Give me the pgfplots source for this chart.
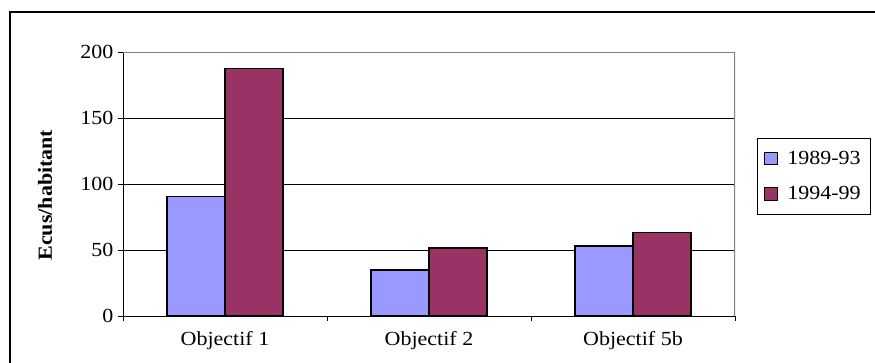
\documentclass[border=0pt]{standalone}
\usepackage{pgfplots}
\pgfplotsset{compat=1.18}
\usepackage{fontspec}
\setmainfont{Liberation Serif}[FakeStretch=1.1]
\definecolor{barblue}{RGB}{153,153,255}
\definecolor{barred}{RGB}{153,51,102}
\begin{document}
\begin{tikzpicture}
\draw[black, line width=1pt] (-84.75pt,228pt) rectangle (700pt,-100pt);
\begin{axis}[
  at={(0pt,0pt)}, anchor=south west,
  width=459pt, height=198pt, scale only axis,
  font=\fontsize{15}{17}\selectfont,
  /pgf/number format/assume math mode=true,
  xmin=-0.5, xmax=2.5, ymin=0, ymax=200,
  ytick={0,50,100,150,200},
  xtick={-0.5,0.5,1.5,2.5}, xticklabels={},
  extra x ticks={0,1,2},
  extra x tick labels={Objectif 1,Objectif 2,Objectif 5b},
  extra x tick style={major tick length=0pt, tick style={draw=none}},
  xticklabel style={yshift=-8pt},
  tick align=outside, major tick length=3.75pt,
  tick style={black, line width=0.6pt},
  axis x line*=bottom, axis y line*=left,
  axis line style={-, black, line width=0.7pt},
  ymajorgrids, grid style={black, line width=0.6pt},
  ybar=0pt, bar width=0.284,
  ylabel={\bfseries Ecus/habitant},
  ylabel style={at={(axis description cs:-0.1275,0.458)}, anchor=center, rotate=0},
  legend style={at={(axis description cs:1.036,0.674)}, anchor=north west,
    draw=black, line width=0.75pt, inner xsep=5pt, inner ysep=7.5pt,
    row sep=11pt, font=\fontsize{15}{17}\selectfont},
  legend cell align=left,
  legend image code/.code={\draw[#1,draw=black,line width=0.8pt] (0pt,-4.5pt) rectangle (9.5pt,5pt); \path[draw=none,fill=none] (0pt,0pt) -- (15pt,0pt);},
]
\addplot[fill=barblue, draw=black, line width=1.1pt] coordinates {(0,90.5) (1,35) (2,53)};
\addplot[fill=barred, draw=black, line width=1.1pt] coordinates {(0,187.7) (1,51.5) (2,63.4)};
\legend{1989-93,1994-99}
\draw[gray, line width=1.2pt] (rel axis cs:0,1) -- (rel axis cs:1,1) -- (rel axis cs:1,0);
\end{axis}
\pgfresetboundingbox
\useasboundingbox (-92.25pt,-34.5pt) rectangle (564pt,237pt);
\end{tikzpicture}
\end{document}
